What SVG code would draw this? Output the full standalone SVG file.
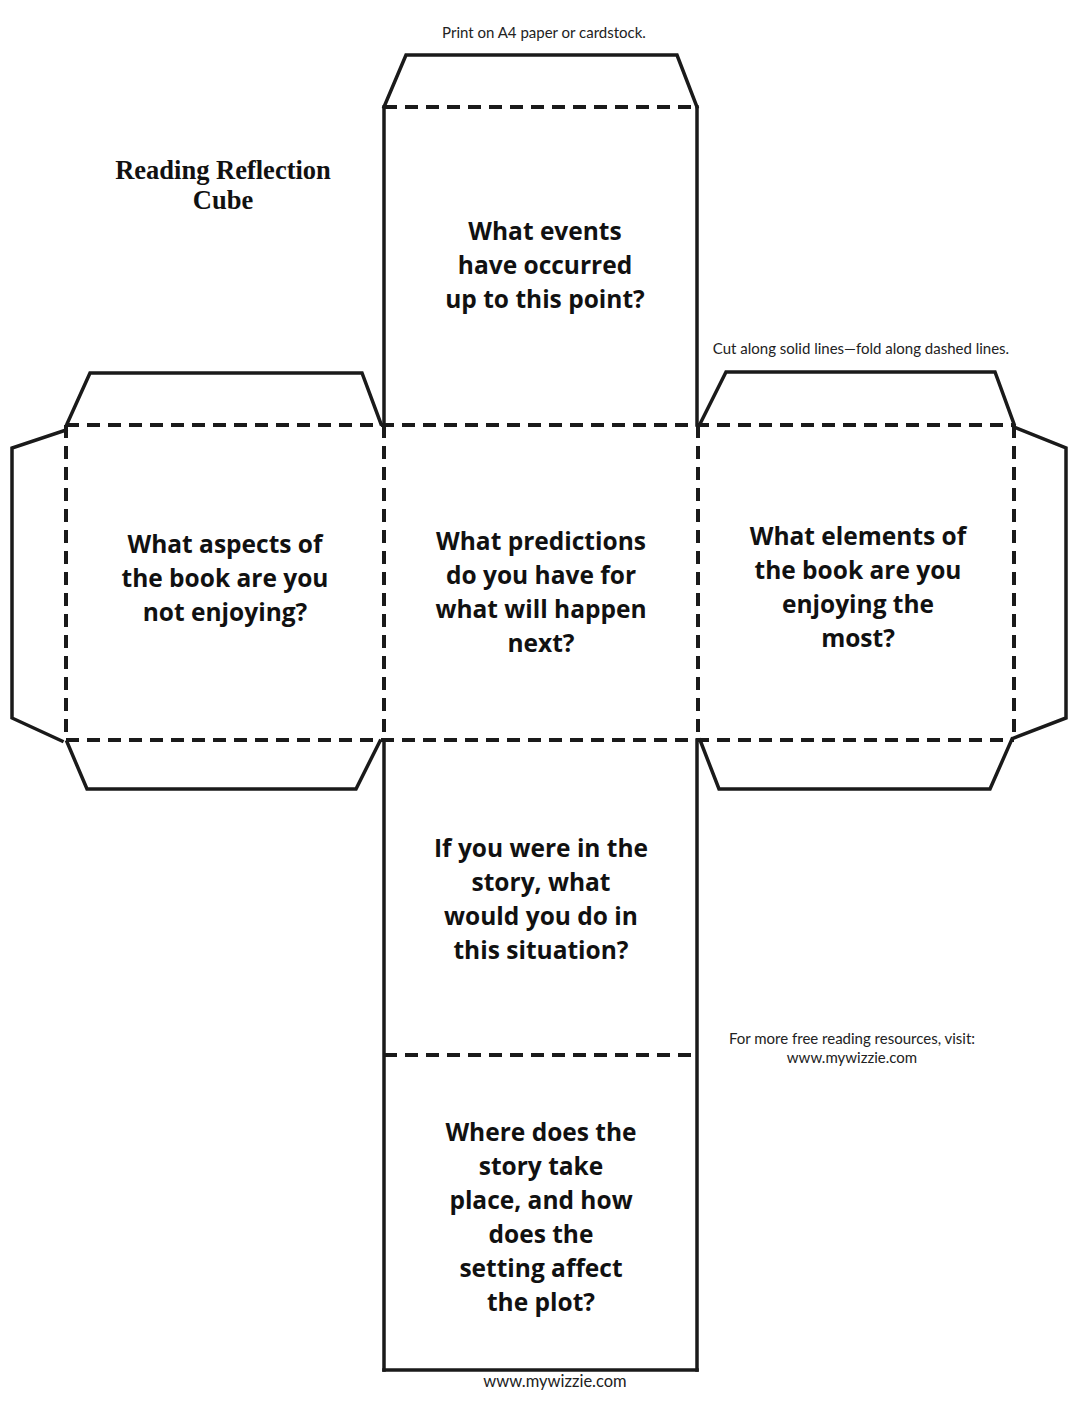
<svg xmlns="http://www.w3.org/2000/svg" width="1088" height="1408" viewBox="0 0 1088 1408">
<style>
.cut{fill:none;stroke:#1a1a1a;stroke-width:3.5;stroke-linejoin:miter;stroke-linecap:square}
.fold{fill:none;stroke:#1a1a1a;stroke-width:4;stroke-dasharray:13 8;stroke-linecap:butt}
.q{font-family:"Open Sans","Liberation Sans",sans-serif;font-weight:bold;font-size:24.5px;fill:#111;text-anchor:middle}
.s{font-family:Lato,"Open Sans",sans-serif;font-size:15px;fill:#222;text-anchor:middle}
.t{font-family:"Liberation Serif","DejaVu Serif",serif;font-weight:bold;font-size:26.5px;fill:#111;text-anchor:middle}
</style>
<rect width="1088" height="1408" fill="#fff"/>
<text class="s" x="544" y="38">Print on A4 paper or cardstock.</text>
<text class="t" x="223" y="179">Reading Reflection</text>
<text class="t" x="223" y="209">Cube</text>
<text class="s" x="861" y="354">Cut along solid lines—fold along dashed lines.</text>
<text class="s" x="852" y="1044">For more free reading resources, visit:</text>
<text class="s" x="852" y="1063">www.mywizzie.com</text>
<text class="s" x="555" y="1387" style="font-size:16.5px">www.mywizzie.com</text>
<g id="connectors">
<polyline class="cut" points="384,107 406,55 677,55 697,107"/>
<line class="cut" x1="384" y1="107" x2="384" y2="425"/>
<line class="cut" x1="697" y1="107" x2="697" y2="425"/>
<line class="cut" x1="384" y1="740" x2="384" y2="1370"/>
<line class="cut" x1="697" y1="740" x2="697" y2="1370"/>
<line class="cut" x1="384" y1="1370" x2="697" y2="1370"/>
<polyline class="cut" points="67,424 90,373 362,373 381,424"/>
<polyline class="cut" points="66,430 12,448 12,718 62,741"/>
<polyline class="cut" points="67,742 87,789 356,789 380,741"/>
<polyline class="cut" points="700,424 726,372 995,372 1014,424"/>
<polyline class="cut" points="1014,427 1066,448 1066,718 1014,738"/>
<polyline class="cut" points="700,740 719,789 990,789 1012,739"/>
<line class="fold" x1="384" y1="107" x2="698" y2="107"/>
<line class="fold" x1="66" y1="425" x2="1014" y2="425"/>
<line class="fold" x1="66" y1="740" x2="1014" y2="740"/>
<line class="fold" x1="66" y1="425" x2="66" y2="740"/>
<line class="fold" x1="384" y1="425" x2="384" y2="740"/>
<line class="fold" x1="698" y1="425" x2="698" y2="740"/>
<line class="fold" x1="1014" y1="425" x2="1014" y2="740"/>
<line class="fold" x1="384" y1="1055" x2="698" y2="1055"/>
</g>
<g id="face-top">
<text class="q" x="545" y="240">What events</text>
<text class="q" x="545" y="274">have occurred</text>
<text class="q" x="545" y="308">up to this point?</text>
</g>
<g id="face-left">
<text class="q" x="225" y="553">What aspects of</text>
<text class="q" x="225" y="587">the book are you</text>
<text class="q" x="225" y="621">not enjoying?</text>
</g>
<g id="face-center">
<text class="q" x="541" y="550">What predictions</text>
<text class="q" x="541" y="584">do you have for</text>
<text class="q" x="541" y="618">what will happen</text>
<text class="q" x="541" y="652">next?</text>
</g>
<g id="face-right">
<text class="q" x="858" y="545">What elements of</text>
<text class="q" x="858" y="579">the book are you</text>
<text class="q" x="858" y="613">enjoying the</text>
<text class="q" x="858" y="647">most?</text>
</g>
<g id="face-bottom">
<text class="q" x="541" y="857">If you were in the</text>
<text class="q" x="541" y="891">story, what</text>
<text class="q" x="541" y="925">would you do in</text>
<text class="q" x="541" y="959">this situation?</text>
</g>
<g id="face-last">
<text class="q" x="541" y="1141">Where does the</text>
<text class="q" x="541" y="1175">story take</text>
<text class="q" x="541" y="1209">place, and how</text>
<text class="q" x="541" y="1243">does the</text>
<text class="q" x="541" y="1277">setting affect</text>
<text class="q" x="541" y="1311">the plot?</text>
</g>
</svg>
